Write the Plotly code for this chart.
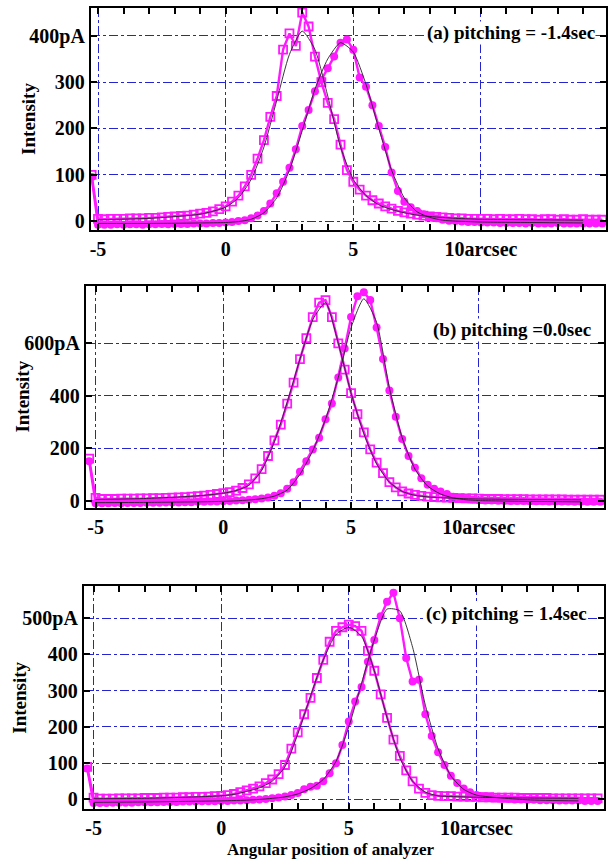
import plotly.graph_objects as go

# ---------------- data ----------------
ANGLE = [-5.25, -5.0, -4.75, -4.5, -4.25, -4.0, -3.75, -3.5, -3.25, -3.0,
         -2.75, -2.5, -2.25, -2.0, -1.75, -1.5, -1.25, -1.0, -0.75, -0.5,
         -0.25, 0.0, 0.25, 0.5, 0.75, 1.0, 1.25, 1.5, 1.75, 2.0,
         2.25, 2.5, 2.75, 3.0, 3.25, 3.5, 3.75, 4.0, 4.25, 4.5,
         4.75, 5.0, 5.25, 5.5, 5.75, 6.0, 6.25, 6.5, 6.75, 7.0,
         7.25, 7.5, 7.75, 8.0, 8.25, 8.5, 8.75, 9.0, 9.25, 9.5,
         9.75, 10.0, 10.25, 10.5, 10.75, 11.0, 11.25, 11.5, 11.75, 12.0,
         12.25, 12.5, 12.75, 13.0, 13.25, 13.5, 13.75, 14.0, 14.25, 14.5,
         14.75]

# (a) pitching = -1.4 sec
SQ_A = [100, 5, 4, 5, 5, 5, 6, 6, 6, 7,
        7, 8, 9, 10, 11, 12, 14, 16, 18, 21,
        26, 32, 42, 55, 75, 100, 135, 175, 225, 270,
        370, 405, 378, 450, 420, 355, 300, 255, 220, 165,
        110, 85, 68, 55, 45, 38, 32, 27, 22, 19,
        16, 14, 12, 10, 9, 8, 7, 6, 6, 5,
        5, 5, 5, 4, 5, 4, 4, 5, 4, 4,
        3, 4, 4, 3, 4, 3, 3, 4, 3, 3,
        3]
CI_A = [95, -8, -8, -8, -7, -8, -7, -7, -8, -7,
        -7, -6, -7, -6, -6, -6, -5, -5, -5, -4,
        -4, -3, -2, 0, 2, 6, 12, 22, 38, 60,
        85, 115, 155, 205, 240, 280, 305, 330, 355, 385,
        392, 370, 310, 290, 250, 205, 160, 105, 65, 42,
        30, 22, 15, 10, 6, 3, 1, 0, -1, -2,
        -2, -3, -3, -3, -4, -4, -4, -4, -5, -4,
        -5, -5, -5, -4, -5, -5, -5, -5, -5, -5,
        -5]

# (b) pitching = 0.0 sec
SQ_B = [160, 10, 6, 6, 6, 7, 7, 7, 8, 8,
        9, 9, 10, 11, 12, 13, 15, 17, 19, 22,
        25, 28, 32, 38, 48, 62, 85, 120, 170, 230,
        290, 370, 450, 540, 620, 700, 755, 765, 700, 600,
        500, 410, 330, 260, 195, 145, 105, 70, 50, 35,
        27, 22, 18, 15, 13, 12, 11, 10, 9, 8,
        8, 7, 6, 6, 6, 5, 5, 5, 5, 4,
        4, 4, 4, 4, 4, 3, 3, 3, 3, 3,
        3]
CI_B = [150, -10, -10, -10, -9, -10, -9, -9, -9, -8,
        -8, -8, -7, -7, -7, -6, -6, -5, -5, -4,
        -4, -3, -2, 0, 1, 3, 5, 8, 12, 18,
        28, 45, 70, 110, 150, 195, 240, 310, 370, 470,
        580, 700, 780, 795, 765, 660, 540, 420, 320, 235,
        170, 125, 85, 60, 45, 35, 25, 15, 10, 6,
        3, 1, 0, 0, -1, -1, -2, -2, -2, -3,
        -3, -3, -4, -4, -4, -4, -5, -5, -5, -5,
        -5]

# (c) pitching = 1.4 sec
SQ_C = [90, 5, 2, 2, 2, 3, 3, 3, 3, 4,
        4, 4, 5, 5, 5, 6, 6, 7, 7, 8,
        9, 10, 12, 15, 20, 25, 30, 36, 45, 55,
        70, 95, 140, 185, 235, 280, 335, 385, 435, 465,
        475, 482, 478, 465, 410, 355, 290, 225, 165, 120,
        80, 50, 30, 18, 12, 10, 9, 9, 8, 8,
        7, 7, 6, 6, 5, 5, 5, 5, 4, 4,
        4, 4, 4, 3, 3, 3, 3, 3, 3, 3,
        3]
CI_C = [85, -10, -10, -10, -9, -9, -9, -9, -8, -8,
        -8, -8, -7, -7, -7, -6, -6, -6, -5, -5,
        -5, -4, -4, -3, -3, -2, -1, 0, 1, 3,
        5, 8, 12, 18, 28, 35, 38, 50, 72, 100,
        150, 215, 270, 310, 380, 440, 505, 545, 570, 500,
        390, 325, 330, 235, 175, 130, 95, 65, 45, 30,
        20, 12, 8, 5, 3, 2, 1, 0, 0, -1,
        -1, -2, -2, -2, -3, -3, -3, -3, -4, -4,
        -4]

# fitted curves (black thin lines)
FIT_X = [-5, -3, -1, 0, 0.5, 1, 1.5, 2, 2.5, 3, 3.5, 4, 4.5, 5, 5.5, 6, 6.5,
         7, 7.5, 8, 8.5, 9, 9.5, 10, 12, 14]
FIT_SQ_A = [3, 6, 15, 30, 50, 90, 160, 260, 360, 410, 370, 270, 160, 90, 55, 35,
            25, 18, 13, 10, 8, 6, 5, 4, 3, 2]
FIT_CI_A = [-5, -5, -4, -3, -1, 4, 18, 50, 110, 195, 285, 350, 385, 365, 295, 200,
            110, 50, 20, 8, 2, 0, -1, -2, -3, -4]
FIT_SQ_B = [4, 8, 18, 28, 38, 58, 115, 225, 375, 540, 690, 755, 600, 410, 255, 140,
            70, 35, 20, 14, 11, 9, 7, 6, 4, 3]
FIT_CI_B = [-8, -7, -5, -3, -1, 2, 7, 17, 40, 100, 190, 310, 470, 660, 770, 680,
            430, 240, 120, 55, 25, 10, 3, 0, -3, -5]
FIT_SQ_C = [2, 3, 7, 10, 14, 22, 32, 50, 90, 180, 285, 385, 455, 475, 450, 355,
            225, 115, 50, 20, 10, 8, 7, 6, 4, 3]
FIT_CI_C = [-8, -7, -5, -4, -3, -2, 0, 3, 7, 15, 30, 55, 105, 200, 320, 440,
            525, 520, 420, 260, 140, 65, 28, 12, -1, -4]

X_TICKS = [-5, 0, 5, 10]
X_TICK_TEXT = ["-5", "0", "5", "10arcsec"]
Y_TICKS_A = [0, 100, 200, 300, 400]
Y_TEXT_A = ["0", "100", "200", "300", "400pA"]
Y_TICKS_B = [0, 200, 400, 600]
Y_TEXT_B = ["0", "200", "400", "600pA"]
Y_TICKS_C = [0, 100, 200, 300, 400, 500]
Y_TEXT_C = ["0", "100", "200", "300", "400", "500pA"]
LABELS = ["(a) pitching = -1.4sec", "(b) pitching =0.0sec", "(c) pitching = 1.4sec"]

# ---------------- layout helpers ----------------
W, H = 608, 861
MAG = "#ff19ff"
GRID = "#2525d0"
FONT = "Liberation Serif"

panels = [
    dict(sq=SQ_A, ci=CI_A, fsq=FIT_SQ_A, fci=FIT_CI_A, xr=[-5.28, 14.9], yr=[-19, 460],
         yt=Y_TICKS_A, ytt=Y_TEXT_A, box=(90, 606, 8, 231), lab=(596, 33), ylab=28),
    dict(sq=SQ_B, ci=CI_B, fsq=FIT_SQ_B, fci=FIT_CI_B, xr=[-5.38, 14.9], yr=[-27, 820],
         yt=Y_TICKS_B, ytt=Y_TEXT_B, box=(85, 604, 287, 510), lab=(592, 332), ylab=22),
    dict(sq=SQ_C, ci=CI_C, fsq=FIT_SQ_C, fci=FIT_CI_C, xr=[-5.38, 15.0], yr=[-27, 588],
         yt=Y_TICKS_C, ytt=Y_TEXT_C, box=(83, 604, 589, 813), lab=(588, 617), ylab=19),
]

fig = go.Figure()
annotations = []
layout_axes = {}

for i, p in enumerate(panels):
    n = "" if i == 0 else str(i + 1)
    xa, ya = "x" + n, "y" + n
    x0, x1, yt0, yb0 = p["box"]
    xdom = [x0 / W, x1 / W]
    ydom = [1 - yb0 / H, 1 - yt0 / H]

    fig.add_trace(go.Scatter(x=ANGLE, y=p["sq"], mode="lines+markers", xaxis=xa, yaxis=ya,
                             line=dict(color=MAG, width=2.4),
                             marker=dict(symbol="square-open", size=8, color=MAG,
                                         line=dict(width=1.8, color=MAG))))
    fig.add_trace(go.Scatter(x=ANGLE, y=p["ci"], mode="lines+markers", xaxis=xa, yaxis=ya,
                             line=dict(color=MAG, width=2.4),
                             marker=dict(symbol="circle", size=8, color=MAG)))
    for fy in (p["fsq"], p["fci"]):
        fig.add_trace(go.Scatter(x=FIT_X, y=fy, mode="lines", xaxis=xa, yaxis=ya,
                                 line=dict(color="#222222", width=0.9, shape="spline",
                                           smoothing=0.6)))

    tickfont = dict(family=FONT, size=20, color="black", weight="bold")
    layout_axes["xaxis" + n] = dict(
        domain=xdom, anchor=ya, range=p["xr"], tickvals=X_TICKS, ticktext=X_TICK_TEXT,
        ticks="inside", ticklen=6, tickwidth=2, tickcolor="black",
        showgrid=True, gridcolor=GRID, griddash="dashdot", gridwidth=1,
        showline=True, linecolor="black", linewidth=2, mirror="ticks",
        zeroline=False, tickfont=tickfont,
        minor=dict(dtick=1, ticks="inside", ticklen=6, tickwidth=2, tickcolor="black",
                   showgrid=False))
    layout_axes["yaxis" + n] = dict(
        domain=ydom, anchor=xa, range=p["yr"], tickvals=p["yt"], ticktext=p["ytt"],
        ticks="inside", ticklen=6, tickwidth=2, tickcolor="black",
        showgrid=True, gridcolor=GRID, griddash="dashdot", gridwidth=1,
        showline=True, linecolor="black", linewidth=2, mirror="ticks",
        zeroline=False, tickfont=tickfont)

    lx, ly = p["lab"]
    annotations.append(dict(text=LABELS[i], x=lx / W, y=1 - ly / H, xref="paper", yref="paper",
                            xanchor="right", yanchor="middle", showarrow=False,
                            bgcolor="white", borderpad=0,
                            font=dict(family=FONT, size=19, color="black", weight="bold")))
    annotations.append(dict(text="Intensity", x=p["ylab"] / W, y=1 - (yt0 + yb0) / 2 / H,
                            xref="paper", yref="paper", textangle=-90, showarrow=False,
                            xanchor="center", yanchor="middle",
                            font=dict(family=FONT, size=19, color="black", weight="bold")))

annotations.append(dict(text="Angular position of analyzer", x=330 / W, y=1 - 852 / H,
                        xref="paper", yref="paper", showarrow=False,
                        xanchor="center", yanchor="top" if False else "middle",
                        yshift=-1,
                        font=dict(family=FONT, size=17, color="black", weight="bold")))

fig.update_layout(width=W, height=H, margin=dict(l=0, r=0, t=0, b=0),
                  paper_bgcolor="white", plot_bgcolor="white", showlegend=False,
                  annotations=annotations, **layout_axes)

fig.write_html("out.html")
